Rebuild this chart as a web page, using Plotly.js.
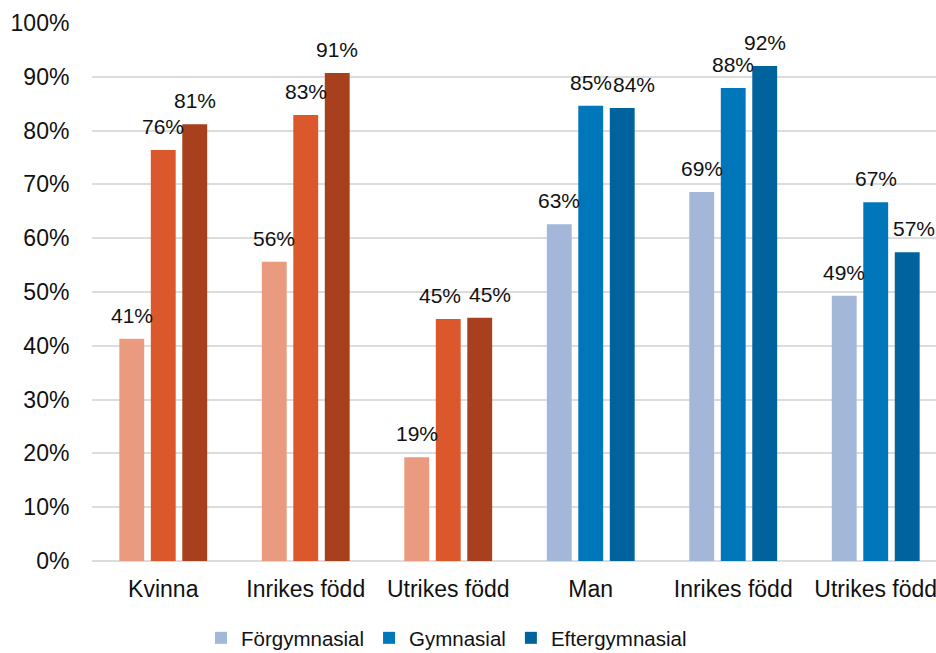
<!DOCTYPE html>
<html>
<head>
<meta charset="utf-8">
<script src="https://cdn.plot.ly/plotly-3.0.1.min.js"></script>
<style>
  html, body { margin: 0; padding: 0; background: #ffffff; }
  #chart { width: 936px; height: 653px; }
</style>
</head>
<body>
<div id="chart"></div>
<script>
// Share of each group by education level (Förgymnasial / Gymnasial / Eftergymnasial)
const categories = ['Kvinna', 'Inrikes född', 'Utrikes född', 'Man', 'Inrikes född', 'Utrikes född'];
const seriesNames = ['Förgymnasial', 'Gymnasial', 'Eftergymnasial'];
const forgymnasial = [0.413, 0.556, 0.193, 0.626, 0.686, 0.493];
const gymnasial = [0.764, 0.829, 0.450, 0.846, 0.879, 0.667];
const eftergymnasial = [0.812, 0.907, 0.452, 0.842, 0.920, 0.574];
const yTicks = [0, 0.1, 0.2, 0.3, 0.4, 0.5, 0.6, 0.7, 0.8, 0.9, 1.0];

// The first three categories (women) use an orange palette, the last three (men) blue
const womenIdx = [0, 1, 2];
const menIdx = [3, 4, 5];
const orange = ['#E99A7F', '#DA582C', '#A8401D'];
const blue = ['#A3B7D8', '#0077BB', '#00639D'];

const FONT = 'Liberation Sans, Arial, Helvetica, sans-serif';
const BARGAP = 0.337;
const BARGROUPGAP = 0.21;

const values = [forgymnasial, gymnasial, eftergymnasial];
const traces = [];
values.forEach((vals, j) => {
  traces.push({
    type: 'bar',
    name: seriesNames[j],
    x: womenIdx,
    y: womenIdx.map(i => vals[i]),
    offsetgroup: String(j),
    marker: { color: orange[j] },
    showlegend: false,
    hoverinfo: 'y'
  });
  traces.push({
    type: 'bar',
    name: seriesNames[j],
    x: menIdx,
    y: menIdx.map(i => vals[i]),
    offsetgroup: String(j),
    marker: { color: blue[j] },
    showlegend: true,
    hoverinfo: 'y'
  });
});

// Horizontal nudges (px) for labels that would otherwise collide: key = "category,series"
const labelNudge = { '2,1': -8, '2,2': 10, '3,2': 12, '5,2': 7 };

// Value labels above each bar, placed at the bar's slot within its group
const slot = (1 - BARGAP) / 3;
const annotations = [];
values.forEach((vals, j) => {
  vals.forEach((v, i) => {
    annotations.push({
      x: i + (j - 1) * slot,
      y: v,
      xref: 'x',
      yref: 'y',
      text: Math.round(v * 100) + '%',
      showarrow: false,
      xanchor: 'center',
      yanchor: 'bottom',
      yshift: 10,
      xshift: labelNudge[i + ',' + j] || 0,
      font: { family: FONT, size: 21, color: '#111111' }
    });
  });
});

const layout = {
  width: 936,
  height: 653,
  margin: { l: 92, r: 0, t: 23, b: 92, pad: 0 },
  paper_bgcolor: '#ffffff',
  plot_bgcolor: '#ffffff',
  barmode: 'group',
  bargap: BARGAP,
  bargroupgap: BARGROUPGAP,
  font: { family: FONT, color: '#111111' },
  xaxis: {
    range: [-0.5, 5.423],
    tickvals: [0, 1, 2, 3, 4, 5],
    ticktext: categories,
    ticks: 'outside',
    ticklen: 7,
    tickcolor: 'rgba(0,0,0,0)',
    ticklabeloverflow: 'allow',
    tickfont: { family: FONT, size: 23, color: '#111111' },
    showgrid: false,
    zeroline: false,
    showline: false,
    fixedrange: true
  },
  yaxis: {
    range: [0, 1],
    tickvals: yTicks,
    tickformat: '.0%',
    ticks: 'outside',
    ticklen: 17,
    tickcolor: 'rgba(0,0,0,0)',
    tickfont: { family: FONT, size: 23, color: '#111111' },
    showgrid: true,
    gridcolor: '#DCDCDC',
    gridwidth: 2,
    zeroline: true,
    zerolinecolor: '#DCDCDC',
    zerolinewidth: 2,
    showline: false,
    fixedrange: true
  },
  legend: {
    orientation: 'h',
    xref: 'container',
    yref: 'container',
    x: 201 / 936,
    xanchor: 'left',
    y: 1 - 638 / 653,
    yanchor: 'middle',
    font: { family: FONT, size: 20.5, color: '#111111' },
    bgcolor: 'rgba(0,0,0,0)',
    borderwidth: 0
  },
  annotations: annotations
};

Plotly.newPlot('chart', traces, layout, { displayModeBar: false, staticPlot: true });
</script>
</body>
</html>
